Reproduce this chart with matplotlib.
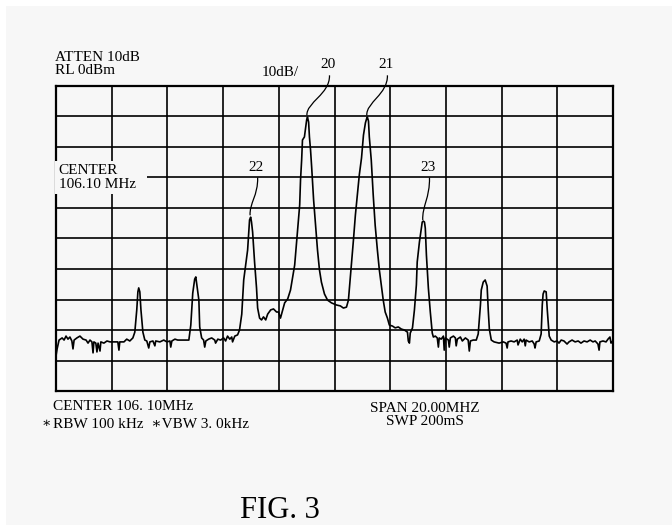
import matplotlib
matplotlib.use("Agg")
import matplotlib.pyplot as plt
from matplotlib.patches import Rectangle, PathPatch
from matplotlib.path import Path

# ---------------- data ----------------
freq_start_mhz = 96.1
freq_stop_mhz = 116.1
ref_level_dbm = 0
db_per_div = 10
n_hdiv = 10
n_vdiv = 10

trace_freq_mhz = [
    96.10, 96.14, 96.21, 96.32, 96.39, 96.46, 96.53, 96.60, 96.67, 96.71,
    96.75, 96.85, 96.96, 97.07, 97.18, 97.25, 97.32, 97.39, 97.43, 97.46,
    97.53, 97.57, 97.61, 97.68, 97.71, 97.82, 97.93, 98.04, 98.14, 98.32,
    98.36, 98.39, 98.54, 98.64, 98.75, 98.86, 98.93, 99.00, 99.04, 99.07,
    99.11, 99.15, 99.22, 99.29, 99.36, 99.43, 99.47, 99.58, 99.65, 99.68,
    99.83, 99.97, 100.08, 100.19, 100.22, 100.26, 100.37, 100.47, 100.65, 100.87,
    100.94, 101.01, 101.08, 101.12, 101.15, 101.23, 101.26, 101.33, 101.40, 101.44,
    101.48, 101.58, 101.69, 101.80, 101.83, 101.91, 102.01, 102.12, 102.19, 102.26,
    102.34, 102.41, 102.44, 102.52, 102.62, 102.69, 102.77, 102.80, 102.84, 102.91,
    102.98, 103.05, 103.09, 103.12, 103.16, 103.23, 103.30, 103.34, 103.41, 103.48,
    103.55, 103.63, 103.70, 103.81, 103.91, 104.02, 104.09, 104.16, 104.24, 104.31,
    104.42, 104.52, 104.59, 104.67, 104.74, 104.81, 104.85, 104.88, 104.92, 104.95,
    105.02, 105.06, 105.10, 105.13, 105.17, 105.20, 105.24, 105.28, 105.35, 105.42,
    105.49, 105.56, 105.63, 105.74, 105.85, 105.99, 106.17, 106.31, 106.42, 106.53,
    106.60, 106.64, 106.71, 106.78, 106.85, 106.92, 106.99, 107.07, 107.14, 107.21,
    107.25, 107.28, 107.32, 107.35, 107.42, 107.49, 107.56, 107.64, 107.71, 107.78,
    107.85, 107.92, 108.00, 108.07, 108.18, 108.28, 108.39, 108.50, 108.61, 108.72,
    108.75, 108.79, 108.82, 108.90, 108.97, 109.04, 109.07, 109.15, 109.22, 109.25,
    109.29, 109.33, 109.36, 109.40, 109.47, 109.54, 109.61, 109.65, 109.72, 109.79,
    109.83, 109.86, 109.93, 110.01, 110.04, 110.08, 110.19, 110.22, 110.26, 110.37,
    110.44, 110.47, 110.51, 110.62, 110.69, 110.80, 110.90, 110.94, 110.98, 111.08,
    111.19, 111.26, 111.34, 111.37, 111.44, 111.51, 111.58, 111.62, 111.66, 111.73,
    111.83, 112.01, 112.16, 112.26, 112.30, 112.33, 112.44, 112.55, 112.66, 112.69,
    112.77, 112.84, 112.91, 112.95, 112.98, 113.09, 113.20, 113.27, 113.30, 113.34,
    113.45, 113.52, 113.56, 113.59, 113.63, 113.70, 113.74, 113.81, 113.88, 113.99,
    114.09, 114.16, 114.24, 114.34, 114.45, 114.52, 114.63, 114.74, 114.85, 114.95,
    115.06, 115.17, 115.28, 115.38, 115.46, 115.56, 115.60, 115.63, 115.74, 115.85,
    115.92, 115.99, 116.03, 116.06,
]

trace_level_dbm = [
    -88.5, -86.2, -83.3, -82.6, -83.3, -82.0, -83.0, -82.3, -83.6, -86.2,
    -83.3, -82.6, -82.0, -83.0, -83.3, -84.3, -83.3, -83.9, -87.5, -83.9,
    -84.3, -87.2, -84.3, -86.9, -83.9, -84.3, -83.6, -83.9, -83.9, -83.9,
    -86.6, -83.9, -83.9, -83.0, -83.6, -82.6, -80.7, -73.4, -67.5, -66.2,
    -67.5, -73.4, -80.7, -83.3, -83.6, -85.9, -83.9, -83.6, -85.2, -83.6,
    -83.9, -83.3, -83.9, -83.6, -85.6, -83.6, -83.0, -83.3, -83.3, -83.3,
    -78.4, -67.9, -63.3, -62.6, -64.6, -70.2, -79.0, -82.6, -83.3, -85.6,
    -83.6, -83.0, -82.6, -83.3, -84.3, -83.0, -83.3, -82.6, -83.6, -82.0,
    -83.0, -82.3, -83.9, -82.0, -81.6, -80.0, -74.8, -70.2, -63.6, -58.7,
    -53.8, -43.9, -43.0, -44.6, -47.9, -57.7, -66.2, -72.8, -76.1, -76.7,
    -75.7, -76.7, -74.8, -73.4, -73.1, -74.1, -74.1, -76.1, -73.4, -71.1,
    -69.8, -66.9, -63.0, -58.7, -51.1, -43.9, -39.0, -30.8, -24.3, -17.7,
    -16.7, -13.8, -11.1, -10.2, -11.8, -16.7, -21.0, -26.6, -37.4, -45.6,
    -53.8, -60.3, -64.3, -68.2, -70.2, -71.1, -71.8, -72.1, -72.8, -72.5,
    -70.2, -65.9, -58.7, -50.5, -42.3, -35.7, -29.2, -23.6, -16.1, -12.1,
    -10.8, -10.2, -11.5, -16.7, -24.3, -35.7, -45.6, -53.8, -60.3, -65.2,
    -70.2, -74.1, -76.1, -78.4, -78.7, -79.3, -79.0, -79.7, -80.0, -80.7,
    -83.6, -84.3, -81.0, -79.3, -73.4, -65.2, -57.7, -51.1, -46.6, -44.6,
    -44.3, -44.6, -46.6, -55.4, -66.2, -74.1, -81.0, -82.3, -82.0, -82.6,
    -85.6, -82.6, -83.0, -82.0, -86.6, -82.6, -83.3, -85.6, -82.6, -82.0,
    -82.6, -85.2, -83.0, -82.3, -83.6, -82.6, -83.3, -86.9, -83.6, -83.3,
    -83.3, -81.3, -71.8, -66.9, -64.3, -63.6, -65.6, -73.4, -79.7, -83.3,
    -83.9, -84.3, -83.9, -84.3, -85.9, -83.9, -83.6, -83.9, -83.3, -84.9,
    -83.0, -83.9, -83.0, -85.2, -83.3, -83.9, -83.6, -84.6, -85.9, -83.9,
    -83.6, -81.3, -71.8, -68.2, -67.2, -67.5, -73.4, -82.0, -83.3, -83.9,
    -83.6, -84.3, -83.3, -83.6, -84.6, -83.9, -83.3, -83.9, -83.6, -84.3,
    -83.6, -83.9, -83.3, -83.9, -83.6, -84.6, -86.6, -83.9, -83.6, -83.9,
    -83.0, -82.3, -84.3, -83.9,
]

# reference numerals: label, peak (freq, level), label position (freq, level)
ref_labels = ["20", "21", "22", "23"]
ref_peak_freq = [105.13, 107.28, 103.09, 109.29]
ref_peak_level = [-10.2, -10.2, -43.0, -44.6]
ref_label_freq = [105.92, 108.00, 103.34, 109.51]
ref_label_level = [6.9, 6.9, -26.6, -26.6]

top_left_text = "ATTEN 10dB\nRL 0dBm"
scale_text = "10dB/"
center_note = "CENTER\n106.10 MHz"
bottom_left_line1 = "CENTER 106. 10MHz"
bottom_left_line2 = "RBW 100 kHz  \u2217VBW 3. 0kHz"
bottom_left_mark = "\u2217"
bottom_right_line1 = "SPAN 20.00MHZ"
bottom_right_line2 = "SWP 200mS"
fig_caption = "FIG. 3"

# ---------------- drawing ----------------
W, H = 672, 525
bg = "#f7f7f7"
fig = plt.figure(figsize=(W / 100, H / 100), dpi=100)
fig.patch.set_facecolor("white")
fig.patches.append(Rectangle((6 / W, 0), 1, 1 - 6 / H, transform=fig.transFigure,
                             facecolor=bg, edgecolor="none", zorder=-10))

serif = ["Liberation Serif", "DejaVu Serif"]
fs = 11

ax = fig.add_axes([56 / W, 1 - 391 / H, 557 / W, 305 / H])
ax.set_zorder(2)
ax.set_facecolor(bg)
bottom_dbm = ref_level_dbm - db_per_div * n_vdiv
ax.set_xlim(freq_start_mhz, freq_stop_mhz)
ax.set_ylim(bottom_dbm, ref_level_dbm)

span = freq_stop_mhz - freq_start_mhz
for i in range(1, n_hdiv):
    ax.axvline(freq_start_mhz + span * i / n_hdiv, color="black", lw=1.2, zorder=1)
for i in range(1, n_vdiv):
    ax.axhline(ref_level_dbm - db_per_div * i, color="black", lw=1.2, zorder=1)
for s in ax.spines.values():
    s.set_linewidth(1.6)
ax.set_xticks([])
ax.set_yticks([])

ax.plot(trace_freq_mhz, trace_level_dbm, color="black", lw=1.2, zorder=3,
        solid_joinstyle="round")

# reference numeral leader lines (S-shaped)
for lab, pf, pl, lf, ll in zip(ref_labels, ref_peak_freq, ref_peak_level,
                               ref_label_freq, ref_label_level):
    start = (lf, ll - 3.4)
    dy = start[1] - pl
    verts = [(pf - 0.02, pl + 0.6), (pf - 0.05, pl + dy * 0.35),
             (start[0] + 0.02, start[1] - dy * 0.45), start]
    codes = [Path.MOVETO, Path.CURVE4, Path.CURVE4, Path.CURVE4]
    ax.add_patch(PathPatch(Path(verts, codes), facecolor="none", edgecolor="black",
                           lw=0.9, zorder=4, clip_on=False))
    ax.text(lf - 0.06, ll, lab, ha="center", va="center", family=serif,
            fontsize=fs, clip_on=False, zorder=5)

# center marker text with background that hides the grid
ax.text(96.2, -30.0, center_note, ha="left", va="center", family=serif,
        fontsize=fs, linespacing=1.0, zorder=6,
        bbox=dict(facecolor=bg, edgecolor="none", pad=2.5))
ax.text(101.0, -30.0, "", zorder=6)
ax.add_patch(Rectangle((98.8, -34.0), 0.55, 8.0, facecolor=bg, edgecolor="none",
                       zorder=5))

fig.text(55 / W, 1 - 64 / H, top_left_text, ha="left", va="center", family=serif,
         fontsize=fs, linespacing=0.95)
fig.text(262 / W, 1 - 73 / H, scale_text, ha="left", va="center", family=serif,
         fontsize=fs)

fig.text(53 / W, 1 - 407 / H, bottom_left_line1, ha="left", va="center",
         family=serif, fontsize=fs)
fig.text(42 / W, 1 - 424 / H, bottom_left_mark, ha="left", va="center",
         family=serif, fontsize=fs - 1)
fig.text(53 / W, 1 - 424 / H, bottom_left_line2, ha="left", va="center",
         family=serif, fontsize=fs)
fig.text(425 / W, 1 - 415 / H, bottom_right_line1 + "\n" + bottom_right_line2,
         ha="center", va="center", family=serif, fontsize=fs, linespacing=0.95,
         multialignment="center")
fig.text(280 / W, 1 - 510 / H, fig_caption, ha="center", va="center",
         family=serif, fontsize=22)

fig.savefig("out.png", dpi=100, facecolor=fig.get_facecolor())
